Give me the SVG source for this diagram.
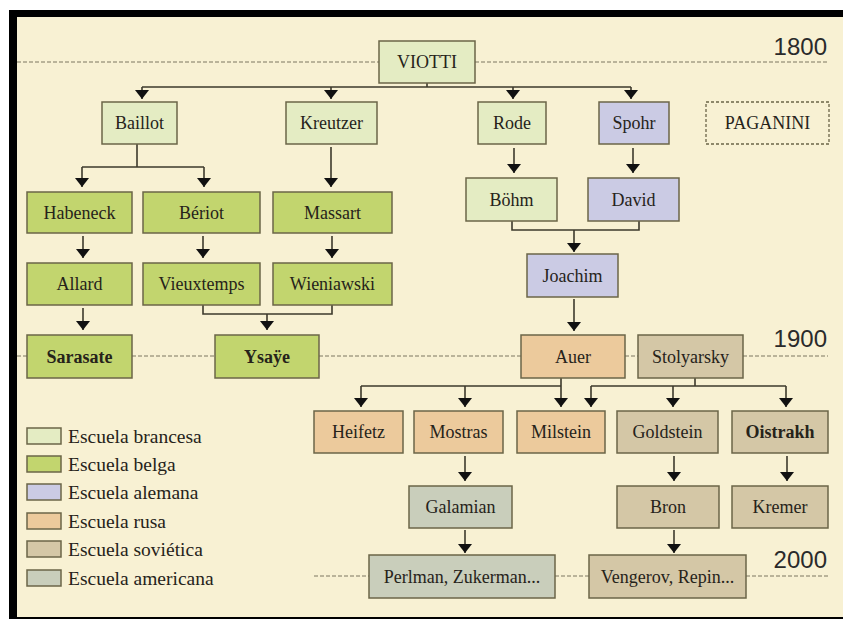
<svg xmlns="http://www.w3.org/2000/svg" width="843" height="619" viewBox="0 0 843 619">
<defs>
<style>
.box{stroke:#6b6548;stroke-width:1.5}
.fr{fill:#e4ecc3}.be{fill:#c2d56e}.al{fill:#cbcbe4}.ru{fill:#ecca9c}.so{fill:#d4c7a6}.am{fill:#c9cebb}
.t{font-family:'Liberation Serif','DejaVu Serif',serif;font-size:18px;fill:#26231a;text-anchor:middle}
.b{font-weight:bold}
.lg{font-family:'Liberation Serif','DejaVu Serif',serif;font-size:19.5px;fill:#26231a}
.yr{font-family:'Liberation Sans',Arial,sans-serif;font-size:24px;fill:#2a2a2a;text-anchor:end}
.dash{stroke:#7d7760;stroke-width:1;stroke-dasharray:4 2;fill:none}
.c{stroke:#3d3a2c;stroke-width:1.6;fill:none}
.a{stroke:#3d3a2c;stroke-width:1.6;fill:none;marker-end:url(#ah)}
</style>
<marker id="ah" markerUnits="userSpaceOnUse" viewBox="0 -8 10 16" markerWidth="10" markerHeight="16" refX="9" refY="0" orient="auto">
<path d="M0,-7 L9,0 L0,7 z" fill="#111"/>
</marker>
</defs>
<rect x="0" y="0" width="843" height="619" fill="#ffffff"/>
<rect x="9" y="10" width="834" height="609" fill="#000000"/>
<rect x="17" y="17" width="826" height="600" fill="#f8f1d3"/>

<g id="timeline">
<path class="dash" d="M17,62H379M475,62H828"/>
<path class="dash" d="M17,356H27M132,356H215M319,356H521M625,356H638M743,356H828"/>
<path class="dash" d="M314,576H369M555,576H589M746,576H828"/>
<text class="yr" x="827" y="55">1800</text>
<text class="yr" x="827" y="347">1900</text>
<text class="yr" x="827" y="568">2000</text>
</g>

<g id="connectors">
<path class="c" d="M427,83V87M142,87H631"/>
<path class="a" d="M142,87V99"/>
<path class="a" d="M331,87V99"/>
<path class="a" d="M513,87V99"/>
<path class="a" d="M631,87V99"/>
<path class="c" d="M137,144V167M82,167H204"/>
<path class="a" d="M82,167V187"/>
<path class="a" d="M204,167V187"/>
<path class="a" d="M331,147V187"/>
<path class="a" d="M514,148V173"/>
<path class="a" d="M633,148V173"/>
<path class="a" d="M83,236V258"/>
<path class="a" d="M203,236V258"/>
<path class="a" d="M332,236V258"/>
<path class="a" d="M83,308V330"/>
<path class="c" d="M203,305V314H332V305"/>
<path class="a" d="M267,314V330"/>
<path class="c" d="M512,221V230H639V221"/>
<path class="a" d="M574,230V252"/>
<path class="a" d="M574,299V331"/>
<path class="c" d="M561,378V386M361,386H561"/>
<path class="a" d="M361,386V407"/>
<path class="a" d="M465,386V407"/>
<path class="a" d="M561,386V407"/>
<path class="c" d="M695,378V386M591,386H786"/>
<path class="a" d="M591,386V407"/>
<path class="a" d="M673,386V407"/>
<path class="a" d="M786,386V407"/>
<path class="a" d="M465,456V481"/>
<path class="a" d="M674,456V481"/>
<path class="a" d="M787,456V481"/>
<path class="a" d="M465,530V553"/>
<path class="a" d="M674,530V553"/>
</g>

<g id="viotti"><rect class="box fr" x="379" y="41" width="96" height="42"/><text class="t" x="427" y="68">VIOTTI</text></g>
<g id="baillot"><rect class="box fr" x="102" y="102" width="75" height="42"/><text class="t" x="139.5" y="129">Baillot</text></g>
<g id="kreutzer"><rect class="box fr" x="286" y="102" width="91" height="42"/><text class="t" x="331.5" y="129">Kreutzer</text></g>
<g id="rode"><rect class="box fr" x="478" y="102" width="68" height="42"/><text class="t" x="512" y="129">Rode</text></g>
<g id="spohr"><rect class="box al" x="599" y="102" width="70" height="42"/><text class="t" x="634" y="129">Spohr</text></g>
<g id="paganini"><rect x="706" y="102" width="123" height="42" fill="none" stroke="#6b6548" stroke-width="1.3" stroke-dasharray="3 2"/><text class="t" x="767.5" y="129">PAGANINI</text></g>
<g id="habeneck"><rect class="box be" x="27" y="192" width="105" height="41"/><text class="t" x="79.5" y="218.5">Habeneck</text></g>
<g id="beriot"><rect class="box be" x="143" y="192" width="117" height="41"/><text class="t" x="201.5" y="218.5">Bériot</text></g>
<g id="massart"><rect class="box be" x="273" y="192" width="119" height="41"/><text class="t" x="332.5" y="218.5">Massart</text></g>
<g id="bohm"><rect class="box fr" x="466" y="178" width="91" height="43"/><text class="t" x="511.5" y="205.5">Böhm</text></g>
<g id="david"><rect class="box al" x="588" y="178" width="91" height="43"/><text class="t" x="633.5" y="205.5">David</text></g>
<g id="allard"><rect class="box be" x="27" y="263" width="105" height="42"/><text class="t" x="79.5" y="290">Allard</text></g>
<g id="vieuxtemps"><rect class="box be" x="143" y="263" width="117" height="42"/><text class="t" x="201.5" y="290">Vieuxtemps</text></g>
<g id="wieniawski"><rect class="box be" x="273" y="263" width="119" height="42"/><text class="t" x="332.5" y="290">Wieniawski</text></g>
<g id="joachim"><rect class="box al" x="527" y="254" width="91" height="43"/><text class="t" x="572.5" y="281.5">Joachim</text></g>
<g id="sarasate"><rect class="box be" x="27" y="335" width="105" height="43"/><text class="t b" x="79.5" y="362.5">Sarasate</text></g>
<g id="ysaye"><rect class="box be" x="215" y="335" width="104" height="43"/><text class="t b" x="267" y="362.5">Ysaÿe</text></g>
<g id="auer"><rect class="box ru" x="521" y="335" width="104" height="43"/><text class="t" x="573" y="362.5">Auer</text></g>
<g id="stolyarsky"><rect class="box so" x="638" y="335" width="105" height="43"/><text class="t" x="690.5" y="362.5">Stolyarsky</text></g>
<g id="heifetz"><rect class="box ru" x="314" y="411" width="89" height="42"/><text class="t" x="358.5" y="438">Heifetz</text></g>
<g id="mostras"><rect class="box ru" x="414" y="411" width="89" height="42"/><text class="t" x="458.5" y="438">Mostras</text></g>
<g id="milstein"><rect class="box ru" x="517" y="411" width="88" height="42"/><text class="t" x="561" y="438">Milstein</text></g>
<g id="goldstein"><rect class="box so" x="617" y="411" width="101" height="42"/><text class="t" x="667.5" y="438">Goldstein</text></g>
<g id="oistrakh"><rect class="box so" x="732" y="411" width="96" height="42"/><text class="t b" x="780" y="438">Oistrakh</text></g>
<g id="galamian"><rect class="box am" x="409" y="486" width="103" height="42"/><text class="t" x="460.5" y="513">Galamian</text></g>
<g id="bron"><rect class="box so" x="617" y="486" width="102" height="42"/><text class="t" x="668" y="513">Bron</text></g>
<g id="kremer"><rect class="box so" x="732" y="486" width="96" height="42"/><text class="t" x="780" y="513">Kremer</text></g>
<g id="perlman"><rect class="box am" x="369" y="555" width="186" height="43"/><text class="t" x="462" y="582.5">Perlman, Zukerman...</text></g>
<g id="vengerov"><rect class="box so" x="589" y="555" width="157" height="43"/><text class="t" x="667.5" y="582.5">Vengerov, Repin...</text></g>

<g id="legend">
<rect class="box fr" x="27" y="428" width="34" height="16"/><text class="lg" x="68" y="443">Escuela brancesa</text>
<rect class="box be" x="27" y="456" width="34" height="16"/><text class="lg" x="68" y="471">Escuela belga</text>
<rect class="box al" x="27" y="484" width="34" height="16"/><text class="lg" x="68" y="499">Escuela alemana</text>
<rect class="box ru" x="27" y="513" width="34" height="16"/><text class="lg" x="68" y="528">Escuela rusa</text>
<rect class="box so" x="27" y="541" width="34" height="16"/><text class="lg" x="68" y="556">Escuela soviética</text>
<rect class="box am" x="27" y="570" width="34" height="16"/><text class="lg" x="68" y="585">Escuela americana</text>
</g>
</svg>
